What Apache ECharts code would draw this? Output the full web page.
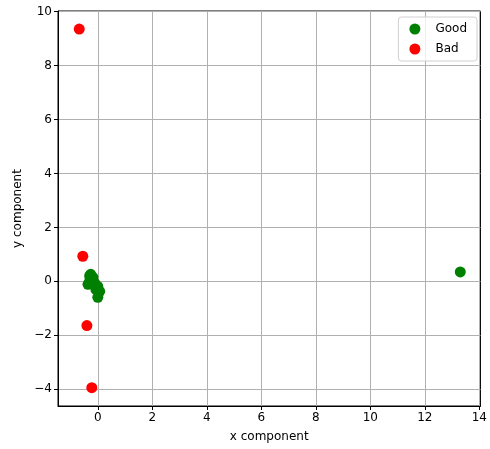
<!DOCTYPE html>
<html><head><meta charset="utf-8">
<script src="https://cdn.jsdelivr.net/npm/echarts@6/dist/echarts.min.js"></script>
<style>html,body{margin:0;padding:0;background:#fff}#c{width:490px;height:449px}</style>
</head><body><div id="c"></div>
<script>
const goodX = [-0.26, -0.18, -0.36, -0.29, -0.11, 0.0, -0.07, 0.07, 0.0, -0.22, -0.30, 13.3];
const goodY = [0.26, 0.15, -0.11, 0.04, -0.07, -0.19, -0.30, -0.37, -0.59, -0.07, 0.20, 0.35];
const badX = [-0.68, -0.55, -0.40, -0.22];
const badY = [9.35, 0.93, -1.64, -3.94];
const seriesNames = ['Good', 'Bad'];
const xTicks = [0, 2, 4, 6, 8, 10, 12, 14];
const yTicks = [-4, -2, 0, 2, 4, 6, 8, 10];

const zip = (a, b) => a.map((v, i) => [v, b[i]]);
const font = 'DejaVu Sans';
const fmt = v => String(Math.round(v)).replace('-', '\u2212');
const chart = echarts.init(document.getElementById('c'));
function axis(ticks, extra) {
  return Object.assign({
    type: 'value',
    axisLine: {show: true, onZero: false, lineStyle: {color: '#000', width: 1}},
    axisTick: {show: true, length: 4, customValues: ticks, lineStyle: {color: '#000'}},
    splitLine: {show: true, lineStyle: {color: '#b0b0b0', width: 1}},
    axisLabel: {color: '#000', fontFamily: font, fontSize: 12, margin: 6, customValues: ticks, formatter: fmt},
    nameLocation: 'middle',
    nameTextStyle: {color: '#000', fontFamily: font, fontSize: 12}
  }, extra);
}
chart.setOption({
  animation: false,
  grid: {left: 58, right: 7, top: 11, bottom: 43, show: true, borderColor: '#000', borderWidth: 1},
  xAxis: axis(xTicks, {min: -1.46, max: 14.04, name: 'x component', nameGap: 25}),
  yAxis: axis(yTicks, {min: -4.62, max: 10.02, name: 'y component', nameGap: 34}),
  legend: {
    right: 13, top: 17, orient: 'vertical', itemGap: 8,
    data: seriesNames,
    borderColor: '#d0d0d0', borderWidth: 1, borderRadius: 3, padding: [6, 10, 6, 11],
    backgroundColor: 'rgba(255,255,255,0.8)',
    itemWidth: 11, itemHeight: 11, icon: 'circle',
    textStyle: {color: '#000', fontFamily: font, fontSize: 12, padding: [0, 0, 0, 10]}
  },
  series: [
    {name: seriesNames[0], type: 'scatter', symbolSize: 11, itemStyle: {color: '#008000', opacity: 1}, data: zip(goodX, goodY)},
    {name: seriesNames[1], type: 'scatter', symbolSize: 11, itemStyle: {color: '#ff0000', opacity: 1}, data: zip(badX, badY)}
  ]
});
</script></body></html>
